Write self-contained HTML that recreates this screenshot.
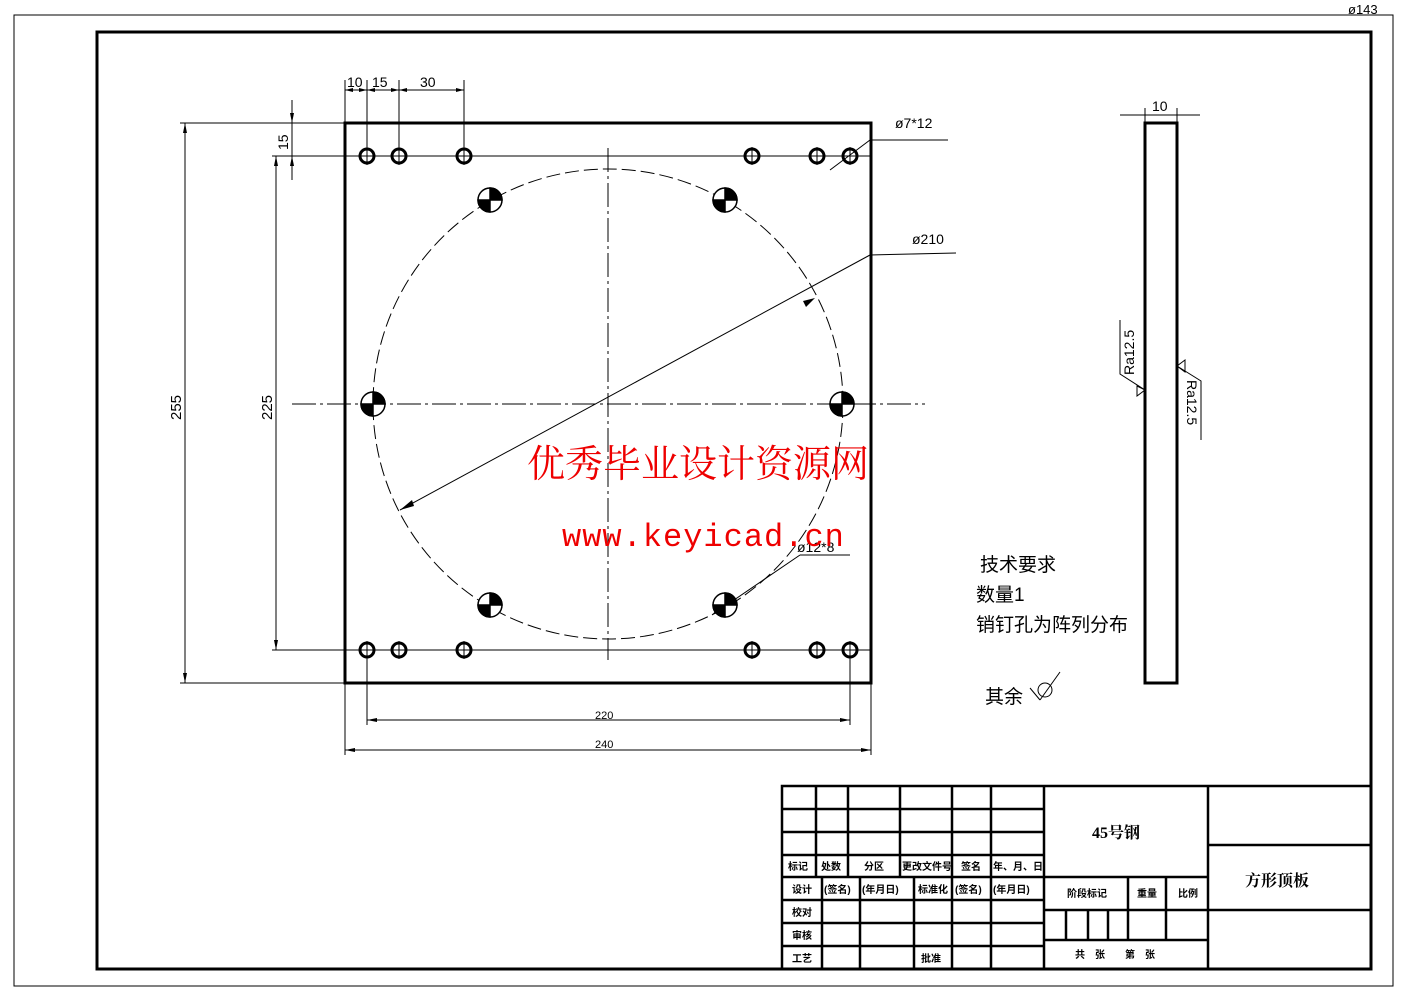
<!DOCTYPE html>
<html><head><meta charset="utf-8"><style>
html,body{margin:0;padding:0;background:#fff;}
svg{display:block;}
text{font-family:"Liberation Sans","Noto Sans CJK SC",sans-serif;}
.cn{font-family:"Liberation Serif","Noto Serif CJK SC","Noto Sans CJK SC",serif;font-weight:bold;}
</style></head><body>
<svg width="1403" height="992" viewBox="0 0 1403 992" xmlns="http://www.w3.org/2000/svg">
<rect x="14" y="15" width="1379" height="971" fill="none" stroke="#000" stroke-width="1"/>
<text x="1348" y="14" font-size="13">ø143</text>
<rect x="97" y="32" width="1274" height="937" fill="none" stroke="#000" stroke-width="3"/>

<rect x="345" y="123" width="526" height="560" fill="none" stroke="#000" stroke-width="3"/>
<line x1="292" y1="404" x2="925" y2="404" stroke="#000" stroke-dasharray="24 4 3 4"/>
<line x1="608" y1="148" x2="608" y2="660" stroke="#000" stroke-dasharray="24 4 3 4"/>
<circle cx="608" cy="404" r="235" fill="none" stroke="#000" stroke-dasharray="14 5"/>
<g fill="none" stroke="#000" stroke-width="3">
<circle cx="367" cy="156" r="7"/><circle cx="399" cy="156" r="7"/><circle cx="464" cy="156" r="7"/>
<circle cx="752" cy="156" r="7"/><circle cx="817" cy="156" r="7"/><circle cx="850" cy="156" r="7"/>
<circle cx="367" cy="650" r="7"/><circle cx="399" cy="650" r="7"/><circle cx="464" cy="650" r="7"/>
<circle cx="752" cy="650" r="7"/><circle cx="817" cy="650" r="7"/><circle cx="850" cy="650" r="7"/>
</g>
<g stroke="#000" stroke-width="1">
<line x1="292" y1="156" x2="870" y2="156"/><line x1="272" y1="650" x2="870" y2="650"/>
<line x1="367" y1="80" x2="367" y2="165"/><line x1="399" y1="80" x2="399" y2="165"/><line x1="464" y1="80" x2="464" y2="165"/><line x1="345" y1="80" x2="345" y2="123"/>
<line x1="752" y1="147" x2="752" y2="165"/><line x1="817" y1="147" x2="817" y2="165"/><line x1="850" y1="147" x2="850" y2="165"/>
<line x1="367" y1="641" x2="367" y2="725"/><line x1="399" y1="641" x2="399" y2="659"/><line x1="464" y1="641" x2="464" y2="659"/>
<line x1="752" y1="641" x2="752" y2="659"/><line x1="817" y1="641" x2="817" y2="659"/><line x1="850" y1="641" x2="850" y2="725"/>
<line x1="345" y1="683" x2="345" y2="755"/><line x1="871" y1="683" x2="871" y2="755"/>
<line x1="345" y1="90" x2="464" y2="90"/>
<line x1="180" y1="123" x2="345" y2="123"/><line x1="180" y1="683" x2="345" y2="683"/>
<line x1="185" y1="123" x2="185" y2="683"/>
<line x1="272" y1="156" x2="292" y2="156"/><line x1="276" y1="156" x2="276" y2="650"/>
<line x1="292" y1="100" x2="292" y2="180"/>
<line x1="367" y1="720" x2="850" y2="720"/><line x1="345" y1="750" x2="871" y2="750"/>
<line x1="400" y1="510" x2="870" y2="255"/><line x1="870" y1="255" x2="956" y2="253"/>
<line x1="830" y1="170" x2="870" y2="140"/><line x1="870" y1="140" x2="948" y2="140"/>
<line x1="712" y1="615" x2="800" y2="555"/><line x1="800" y1="555" x2="850" y2="555"/>
</g>
<g fill="#000">
<polygon points="400,510 412,500 414,506"/><polygon points="815,298 803,301 806,307"/>
<polygon points="712,615 720,605 723,611"/>
<polygon points="345,90 353,88 353,92"/><polygon points="367,90 359,88 359,92"/><polygon points="367,90 375,88 375,92"/>
<polygon points="399,90 391,88 391,92"/><polygon points="399,90 407,88 407,92"/><polygon points="464,90 456,88 456,92"/>
<polygon points="185,123 183,133 187,133"/><polygon points="185,683 183,673 187,673"/>
<polygon points="276,156 274,166 278,166"/><polygon points="276,650 274,640 278,640"/>
<polygon points="292,123 290,113 294,113"/><polygon points="292,156 290,166 294,166"/>
<polygon points="367,720 377,718 377,722"/><polygon points="850,720 840,718 840,722"/>
<polygon points="345,750 355,748 355,752"/><polygon points="871,750 861,748 861,752"/>
</g>
<g font-size="14">
<text x="347" y="87">10</text><text x="372" y="87">15</text><text x="420" y="87">30</text>
<text x="595" y="719" font-size="11">220</text><text x="595" y="748" font-size="11">240</text>
<text transform="translate(181,420) rotate(-90)" font-size="15">255</text>
<text transform="translate(272,420) rotate(-90)" font-size="15">225</text>
<text transform="translate(288,150) rotate(-90)" font-size="14">15</text>
<text x="895" y="128">ø7*12</text><text x="912" y="244">ø210</text><text x="797" y="552">ø12*8</text>
</g>
<g stroke="#000" stroke-width="1.5">
<g transform="translate(490,200)"><circle r="12" fill="#fff"/><path d="M0 0 H12 A12 12 0 0 0 0 -12Z M0 0 H-12 A12 12 0 0 0 0 12Z" fill="#000"/></g>
<g transform="translate(725,200)"><circle r="12" fill="#fff"/><path d="M0 0 H12 A12 12 0 0 0 0 -12Z M0 0 H-12 A12 12 0 0 0 0 12Z" fill="#000"/></g>
<g transform="translate(373,404)"><circle r="12" fill="#fff"/><path d="M0 0 H12 A12 12 0 0 0 0 -12Z M0 0 H-12 A12 12 0 0 0 0 12Z" fill="#000"/></g>
<g transform="translate(842,404)"><circle r="12" fill="#fff"/><path d="M0 0 H12 A12 12 0 0 0 0 -12Z M0 0 H-12 A12 12 0 0 0 0 12Z" fill="#000"/></g>
<g transform="translate(490,605)"><circle r="12" fill="#fff"/><path d="M0 0 H12 A12 12 0 0 0 0 -12Z M0 0 H-12 A12 12 0 0 0 0 12Z" fill="#000"/></g>
<g transform="translate(725,605)"><circle r="12" fill="#fff"/><path d="M0 0 H12 A12 12 0 0 0 0 -12Z M0 0 H-12 A12 12 0 0 0 0 12Z" fill="#000"/></g>
</g>

<rect x="1145" y="123" width="32" height="560" fill="none" stroke="#000" stroke-width="3"/>
<g stroke="#000" stroke-width="1" fill="none">
<line x1="1120" y1="115" x2="1200" y2="115"/><line x1="1145" y1="108" x2="1145" y2="123"/><line x1="1177" y1="108" x2="1177" y2="123"/>
<polyline points="1120,320 1120,374 1145,390"/><polygon points="1137,386 1145,390 1137,396"/>
<polyline points="1201,440 1201,381 1177,366"/><polygon points="1185,360 1177,366 1185,372"/>
<polyline points="1040,700 1060,672"/><circle cx="1045" cy="690" r="7"/><polyline points="1030,688 1040,700"/>
</g>
<g font-size="14">
<text x="1152" y="111">10</text>
<text transform="translate(1134,375) rotate(-90)">Ra12.5</text>
<text transform="translate(1187,380) rotate(90)">Ra12.5</text>
</g>
<g class="cn" font-size="19" style="font-weight:normal">
<text x="980" y="571">技术要求</text><text x="976" y="601">数量1</text><text x="976" y="631">销钉孔为阵列分布</text>
<text x="985" y="703">其余</text>
</g>
<text x="527" y="477" fill="#e00" style="font-family:'Noto Serif CJK SC','Noto Sans CJK SC',serif;font-size:38px">优秀毕业设计资源网</text>
<text x="562" y="546" fill="#e00" style="font-family:'Liberation Mono',monospace;font-size:32px;letter-spacing:1px">www.keyicad.cn</text>

<g stroke="#000" stroke-width="2.5" fill="none">
<rect x="782" y="786" width="589" height="183"/>
<line x1="782" y1="809" x2="1044" y2="809"/><line x1="782" y1="832" x2="1044" y2="832"/><line x1="782" y1="855" x2="1044" y2="855"/>
<line x1="782" y1="877" x2="1044" y2="877"/><line x1="782" y1="900" x2="1044" y2="900"/><line x1="782" y1="923" x2="1044" y2="923"/><line x1="782" y1="946" x2="1044" y2="946"/>
<line x1="816" y1="786" x2="816" y2="877"/><line x1="848" y1="786" x2="848" y2="877"/><line x1="900" y1="786" x2="900" y2="877"/><line x1="952" y1="786" x2="952" y2="969"/><line x1="991" y1="786" x2="991" y2="969"/>
<line x1="822" y1="877" x2="822" y2="969"/><line x1="860" y1="877" x2="860" y2="969"/><line x1="914" y1="877" x2="914" y2="969"/>
<line x1="1044" y1="786" x2="1044" y2="969"/><line x1="1208" y1="786" x2="1208" y2="969"/>
<line x1="1044" y1="877" x2="1208" y2="877"/><line x1="1044" y1="910" x2="1208" y2="910"/><line x1="1044" y1="940" x2="1208" y2="940"/>
<line x1="1128" y1="877" x2="1128" y2="940"/><line x1="1166" y1="877" x2="1166" y2="940"/>
<line x1="1066" y1="910" x2="1066" y2="940"/><line x1="1088" y1="910" x2="1088" y2="940"/><line x1="1108" y1="910" x2="1108" y2="940"/>
<line x1="1208" y1="845" x2="1371" y2="845"/><line x1="1208" y1="910" x2="1371" y2="910"/>
</g>
<g class="cn" font-size="10">
<text x="788" y="870">标记</text><text x="821" y="870">处数</text><text x="864" y="870">分区</text><text x="902" y="870">更改文件号</text><text x="961" y="870">签名</text><text x="993" y="870">年、月、日</text>
<text x="792" y="893">设计</text><text x="824" y="893">(签名)</text><text x="862" y="893">(年月日)</text><text x="918" y="893">标准化</text><text x="955" y="893">(签名)</text><text x="993" y="893">(年月日)</text>
<text x="792" y="916">校对</text><text x="792" y="939">审核</text><text x="792" y="962">工艺</text><text x="921" y="962">批准</text>
<text x="1067" y="897">阶段标记</text><text x="1137" y="897">重量</text><text x="1178" y="897">比例</text>
<text x="1075" y="958">共　张　　第　张</text>
</g>
<text x="1092" y="838" class="cn" font-size="16">45号钢</text>
<text x="1245" y="886" class="cn" font-size="16">方形顶板</text>
</svg>
</body></html>
